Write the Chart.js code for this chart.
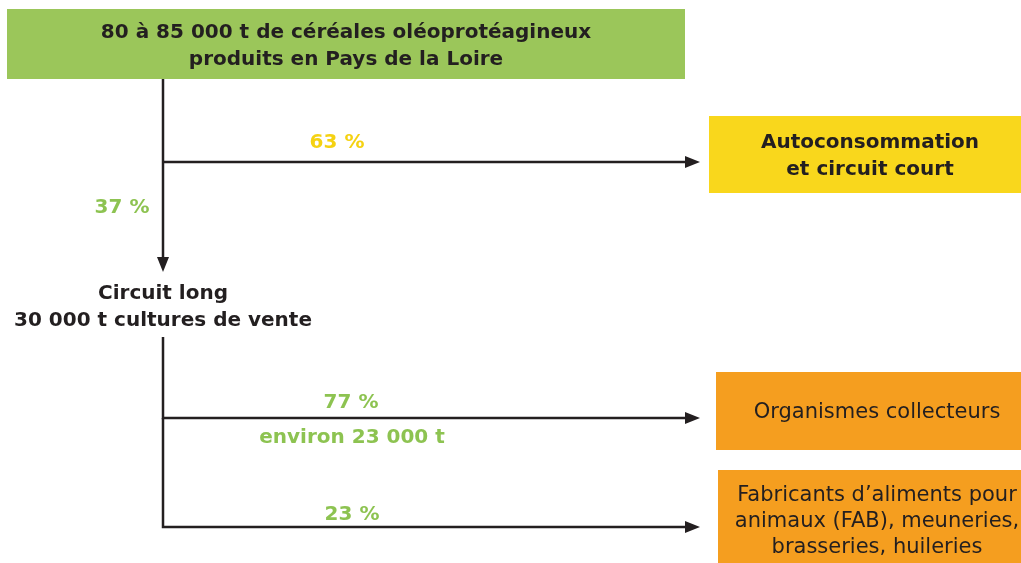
<!DOCTYPE html>
<html>
<head>
<meta charset="utf-8">
<script src="https://cdn.jsdelivr.net/npm/chart.js@4/dist/chart.umd.min.js"></script>
<style>
  body { margin: 0; background: #fff; }
  #wrap { width: 1021px; height: 563px; }
</style>
</head>
<body>
<div id="wrap"><canvas id="flow"></canvas></div>
<script>
// nodes of the flow, text only
const nodeIds = ["source", "court", "long", "collecteurs", "fab"];
const nodeLines = [
  ["80 à 85 000 t de céréales oléoprotéagineux", "produits en Pays de la Loire"],
  ["Autoconsommation", "et circuit court"],
  ["Circuit long", "30 000 t cultures de vente"],
  ["Organismes collecteurs"],
  ["Fabricants d\u2019aliments pour", "animaux (FAB), meuneries,", "brasseries, huileries"]
];
// flows: from, to, share label, extra label
const flowFrom = ["source", "source", "long", "long"];
const flowTo = ["court", "long", "collecteurs", "fab"];
const flowShare = ["63 %", "37 %", "77 %", "23 %"];
const flowNote = ["", "", "environ 23 000 t", ""];

// layout (in axis units, one unit = one pixel of the picture)
const boxes = {
  source:      { x0: 7,   x1: 685,  y0: 9,   y1: 79,  fill: "#9bc65a", bold: true,  size: 20, lh: 27, tx: 346, ty: 46 },
  court:       { x0: 709, x1: 1021, y0: 116, y1: 193, fill: "#f9d71c", bold: true,  size: 20, lh: 27, tx: 870, ty: 156 },
  long:        { x0: 0,   x1: 330,  y0: 278, y1: 334, fill: null,      bold: true,  size: 20, lh: 27, tx: 163, ty: 307 },
  collecteurs: { x0: 716, x1: 1021, y0: 372, y1: 450, fill: "#f59e1f", bold: false, size: 21, lh: 27, tx: 877, ty: 413 },
  fab:         { x0: 718, x1: 1021, y0: 470, y1: 563, fill: "#f59e1f", bold: false, size: 21, lh: 26, tx: 877, ty: 522 }
};
const arrows = [
  { pts: [[163, 162], [700, 162]], label: [337, 143], labelColor: "#f5d212", note: null },
  { pts: [[163, 79], [163, 272]],  label: [122, 208], labelColor: "#8dc351", note: null },
  { pts: [[163, 337], [163, 418], [700, 418]], label: [351, 403], labelColor: "#8dc351", note: [352, 438] },
  { pts: [[163, 418], [163, 527], [700, 527]], label: [352, 515], labelColor: "#8dc351", note: null }
];
const inkColor = "#231f20";
const fontFamily = "'DejaVu Sans', 'Liberation Sans', sans-serif";

const flowPlugin = {
  id: "flow",
  afterDraw(chart) {
    const ctx = chart.ctx;
    const sx = chart.scales.x, sy = chart.scales.y;
    const px = v => sx.getPixelForValue(v);
    const py = v => sy.getPixelForValue(v);
    ctx.save();

    // boxes and their text
    nodeIds.forEach((id, i) => {
      const b = boxes[id];
      if (b.fill) {
        ctx.fillStyle = b.fill;
        ctx.fillRect(px(b.x0), py(b.y0), px(b.x1) - px(b.x0), py(b.y1) - py(b.y0));
      }
      ctx.save();
      ctx.beginPath();
      ctx.rect(px(b.x0), py(b.y0), px(b.x1) - px(b.x0), py(b.y1) - py(b.y0));
      ctx.clip();
      ctx.fillStyle = inkColor;
      ctx.font = (b.bold ? "bold " : "") + b.size + "px " + fontFamily;
      ctx.textAlign = "center";
      ctx.textBaseline = "middle";
      const lines = nodeLines[i];
      lines.forEach((t, k) => {
        const y = b.ty + (k - (lines.length - 1) / 2) * b.lh;
        ctx.fillText(t, px(b.tx), py(y));
      });
      ctx.restore();
    });

    // arrows
    ctx.strokeStyle = inkColor;
    ctx.fillStyle = inkColor;
    ctx.lineWidth = 2.5;
    arrows.forEach((a, i) => {
      const p = a.pts.map(q => [px(q[0]), py(q[1])]);
      const last = p[p.length - 1], prev = p[p.length - 2];
      const ang = Math.atan2(last[1] - prev[1], last[0] - prev[0]);
      const len = 15, half = 6;
      const bx = last[0] - Math.cos(ang) * len, by = last[1] - Math.sin(ang) * len;
      ctx.beginPath();
      ctx.moveTo(p[0][0], p[0][1]);
      for (let k = 1; k < p.length - 1; k++) ctx.lineTo(p[k][0], p[k][1]);
      ctx.lineTo(bx + Math.cos(ang) * 2, by + Math.sin(ang) * 2);
      ctx.stroke();
      ctx.beginPath();
      ctx.moveTo(last[0], last[1]);
      ctx.lineTo(bx - Math.sin(ang) * half, by + Math.cos(ang) * half);
      ctx.lineTo(bx + Math.sin(ang) * half, by - Math.cos(ang) * half);
      ctx.closePath();
      ctx.fill();

      ctx.save();
      ctx.font = "bold 20px " + fontFamily;
      ctx.textAlign = "center";
      ctx.textBaseline = "middle";
      ctx.fillStyle = a.labelColor;
      ctx.fillText(flowShare[i], px(a.label[0]), py(a.label[1]));
      if (a.note && flowNote[i]) ctx.fillText(flowNote[i], px(a.note[0]), py(a.note[1]));
      ctx.restore();
    });
    ctx.restore();
  }
};

new Chart(document.getElementById("flow"), {
  type: "scatter",
  data: { datasets: [{ data: [], label: flowFrom.map((f, i) => f + "→" + flowTo[i]).join(", ") }] },
  options: {
    responsive: true,
    maintainAspectRatio: false,
    animation: false,
    layout: { padding: 0 },
    plugins: { legend: { display: false }, tooltip: { enabled: false } },
    scales: {
      x: { type: "linear", min: 0, max: 1021, display: false },
      y: { type: "linear", min: 0, max: 563, reverse: true, display: false }
    }
  },
  plugins: [flowPlugin]
});
</script>
</body>
</html>
